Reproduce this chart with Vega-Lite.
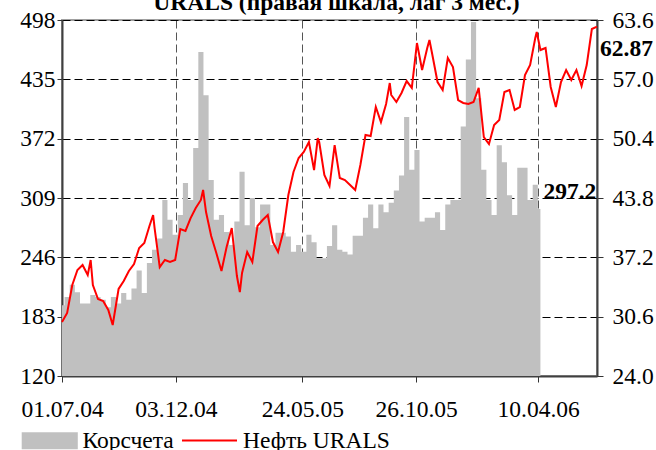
{
  "$schema": "https://vega.github.io/schema/vega-lite/v6.json",
  "width": 535,
  "height": 356,
  "autosize": {"type": "none"},
  "padding": {"left": 62, "top": 20, "right": 59, "bottom": 74},
  "background": "white",
  "config": {
    "font": "Liberation Serif",
    "view": {"stroke": "#a0a0a0", "strokeWidth": 2},
    "axis": {
      "labelFont": "Liberation Serif",
      "labelFontSize": 23.5,
      "labelColor": "#000",
      "tickColor": "#333",
      "domainColor": "#404040",
      "domainWidth": 2,
      "title": null
    },
    "legend": {
      "labelFont": "Liberation Serif",
      "labelFontSize": 23.5,
      "labelColor": "#000",
      "padding": 0
    }
  },
  "title": {
    "text": "URALS    (правая шкала, лаг 3 мес.)",
    "font": "Liberation Serif",
    "fontSize": 23.5,
    "fontWeight": "bold",
    "color": "#000",
    "anchor": "middle",
    "frame": "group",
    "baseline": "alphabetic",
    "offset": -25,
    "dx": 7
  },
  "encoding": {
    "x": {
      "field": "date",
      "type": "temporal",
      "scale": {
        "type": "utc",
        "domain": [
          {"year": 2004, "month": 7, "date": 1, "utc": true},
          {"year": 2006, "month": 6, "date": 29, "utc": true}
        ]
      },
      "axis": {
        "values": [
          {"year": 2004, "month": 7, "date": 1, "utc": true},
          {"year": 2004, "month": 12, "date": 3, "utc": true},
          {"year": 2005, "month": 5, "date": 24, "utc": true},
          {"year": 2005, "month": 10, "date": 26, "utc": true},
          {"year": 2006, "month": 4, "date": 10, "utc": true}
        ],
        "format": "%d.%m.%y",
        "labelAngle": 0,
        "labelFlush": false,
        "labelOverlap": false,
        "grid": true,
        "gridColor": "#555",
        "gridDash": [8, 4],
        "tickSize": 6,
        "labelPadding": 15
      }
    }
  },
  "layer": [
    {
      "data": {
        "values": [
          {"date": "2004-07-01", "value": 195},
          {"date": "2004-07-08", "value": 204},
          {"date": "2004-07-15", "value": 217},
          {"date": "2004-07-22", "value": 209},
          {"date": "2004-07-29", "value": 197},
          {"date": "2004-08-05", "value": 197},
          {"date": "2004-08-12", "value": 206},
          {"date": "2004-08-19", "value": 204},
          {"date": "2004-08-26", "value": 201},
          {"date": "2004-09-02", "value": 193},
          {"date": "2004-09-09", "value": 204},
          {"date": "2004-09-16", "value": 197},
          {"date": "2004-09-23", "value": 208},
          {"date": "2004-09-30", "value": 201},
          {"date": "2004-10-07", "value": 213},
          {"date": "2004-10-14", "value": 232},
          {"date": "2004-10-21", "value": 208},
          {"date": "2004-10-28", "value": 240},
          {"date": "2004-11-04", "value": 254},
          {"date": "2004-11-11", "value": 266},
          {"date": "2004-11-18", "value": 307},
          {"date": "2004-11-25", "value": 286},
          {"date": "2004-12-02", "value": 270},
          {"date": "2004-12-09", "value": 291},
          {"date": "2004-12-16", "value": 325},
          {"date": "2004-12-23", "value": 307},
          {"date": "2004-12-30", "value": 362},
          {"date": "2005-01-06", "value": 464},
          {"date": "2005-01-13", "value": 418},
          {"date": "2005-01-20", "value": 328},
          {"date": "2005-01-27", "value": 286},
          {"date": "2005-02-03", "value": 291},
          {"date": "2005-02-10", "value": 273},
          {"date": "2005-02-17", "value": 259},
          {"date": "2005-02-24", "value": 284},
          {"date": "2005-03-03", "value": 337},
          {"date": "2005-03-10", "value": 280},
          {"date": "2005-03-17", "value": 309},
          {"date": "2005-03-24", "value": 278},
          {"date": "2005-03-31", "value": 302},
          {"date": "2005-04-07", "value": 302},
          {"date": "2005-04-14", "value": 259},
          {"date": "2005-04-21", "value": 272},
          {"date": "2005-04-28", "value": 272},
          {"date": "2005-05-05", "value": 268},
          {"date": "2005-05-12", "value": 252},
          {"date": "2005-05-19", "value": 259},
          {"date": "2005-05-26", "value": 252},
          {"date": "2005-06-02", "value": 270},
          {"date": "2005-06-09", "value": 262},
          {"date": "2005-06-16", "value": 245},
          {"date": "2005-06-23", "value": 245},
          {"date": "2005-06-30", "value": 258},
          {"date": "2005-07-07", "value": 280},
          {"date": "2005-07-14", "value": 254},
          {"date": "2005-07-21", "value": 252},
          {"date": "2005-07-28", "value": 249},
          {"date": "2005-08-04", "value": 269},
          {"date": "2005-08-11", "value": 269},
          {"date": "2005-08-18", "value": 288},
          {"date": "2005-08-25", "value": 302},
          {"date": "2005-09-01", "value": 277},
          {"date": "2005-09-08", "value": 302},
          {"date": "2005-09-15", "value": 294},
          {"date": "2005-09-22", "value": 304},
          {"date": "2005-09-29", "value": 317},
          {"date": "2005-10-06", "value": 333},
          {"date": "2005-10-13", "value": 395},
          {"date": "2005-10-20", "value": 339},
          {"date": "2005-10-27", "value": 360},
          {"date": "2005-11-03", "value": 284},
          {"date": "2005-11-10", "value": 288},
          {"date": "2005-11-17", "value": 288},
          {"date": "2005-11-24", "value": 294},
          {"date": "2005-12-01", "value": 275},
          {"date": "2005-12-08", "value": 302},
          {"date": "2005-12-15", "value": 307},
          {"date": "2005-12-22", "value": 307},
          {"date": "2005-12-29", "value": 385},
          {"date": "2006-01-05", "value": 456},
          {"date": "2006-01-12", "value": 496},
          {"date": "2006-01-19", "value": 415},
          {"date": "2006-01-26", "value": 339},
          {"date": "2006-02-02", "value": 307},
          {"date": "2006-02-09", "value": 291},
          {"date": "2006-02-16", "value": 365},
          {"date": "2006-02-23", "value": 347},
          {"date": "2006-03-02", "value": 312},
          {"date": "2006-03-09", "value": 291},
          {"date": "2006-03-16", "value": 341},
          {"date": "2006-03-23", "value": 341},
          {"date": "2006-03-30", "value": 307},
          {"date": "2006-04-06", "value": 323},
          {"date": "2006-04-13", "value": 297.2, "label": "297.2"}
        ]
      },
      "layer": [
        {
          "mark": {"type": "area", "interpolate": "step", "color": "#c0c0c0"},
          "encoding": {
            "y": {
              "field": "value",
              "type": "quantitative",
              "scale": {"domain": [120, 498], "nice": false, "zero": false},
              "axis": {
                "values": [120, 183, 246, 309, 372, 435, 498],
                "format": "d",
                "grid": true,
                "gridColor": "#000",
                "gridDash": [8, 4],
                "tickSize": 5,
                "labelPadding": 2
              }
            },
            "y2": {"datum": 120},
            "fill": {
              "datum": "Корсчета",
              "type": "nominal",
              "scale": {"range": ["#c0c0c0"]},
              "legend": {
                "orient": "none",
                "legendX": -40,
                "legendY": 409,
                "title": null,
                "symbolType": "M-3.3,-1H3.3V1H-3.3Z",
                "symbolSize": 289,
                "symbolStrokeWidth": 0,
                "symbolOffset": 16,
                "labelOffset": 21
              }
            }
          }
        },
        {
          "transform": [{"filter": "isValid(datum.label)"}],
          "mark": {
            "type": "text",
            "align": "left",
            "baseline": "middle",
            "dx": 3,
            "dy": -17,
            "font": "Liberation Serif",
            "fontSize": 23.5,
            "fontWeight": "bold",
            "color": "#000"
          },
          "encoding": {
            "y": {"field": "value", "type": "quantitative"},
            "text": {"field": "label"}
          }
        }
      ]
    },
    {
      "data": {
        "values": [
          {"date": "2004-07-01", "value": 30.01},
          {"date": "2004-07-08", "value": 31.01},
          {"date": "2004-07-15", "value": 34.12},
          {"date": "2004-07-22", "value": 35.79},
          {"date": "2004-07-29", "value": 36.35},
          {"date": "2004-08-05", "value": 35.23},
          {"date": "2004-08-09", "value": 36.9},
          {"date": "2004-08-12", "value": 34.12},
          {"date": "2004-08-19", "value": 32.56},
          {"date": "2004-08-26", "value": 32.34},
          {"date": "2004-09-02", "value": 31.34},
          {"date": "2004-09-08", "value": 29.67},
          {"date": "2004-09-16", "value": 33.68},
          {"date": "2004-09-23", "value": 34.57},
          {"date": "2004-09-30", "value": 35.68},
          {"date": "2004-10-07", "value": 36.46},
          {"date": "2004-10-14", "value": 38.24},
          {"date": "2004-10-21", "value": 38.79},
          {"date": "2004-10-28", "value": 40.68},
          {"date": "2004-11-02", "value": 41.91},
          {"date": "2004-11-04", "value": 40.46},
          {"date": "2004-11-11", "value": 36.12},
          {"date": "2004-11-18", "value": 36.9},
          {"date": "2004-11-25", "value": 36.68},
          {"date": "2004-12-02", "value": 36.9},
          {"date": "2004-12-09", "value": 40.35},
          {"date": "2004-12-16", "value": 40.13},
          {"date": "2004-12-23", "value": 41.57},
          {"date": "2004-12-30", "value": 42.69},
          {"date": "2005-01-06", "value": 43.58},
          {"date": "2005-01-09", "value": 44.69},
          {"date": "2005-01-13", "value": 42.24},
          {"date": "2005-01-20", "value": 39.57},
          {"date": "2005-01-27", "value": 37.68},
          {"date": "2005-02-03", "value": 35.68},
          {"date": "2005-02-10", "value": 38.35},
          {"date": "2005-02-17", "value": 40.46},
          {"date": "2005-02-24", "value": 35.12},
          {"date": "2005-02-28", "value": 33.34},
          {"date": "2005-03-03", "value": 35.46},
          {"date": "2005-03-10", "value": 37.79},
          {"date": "2005-03-17", "value": 36.68},
          {"date": "2005-03-24", "value": 40.68},
          {"date": "2005-03-31", "value": 41.35},
          {"date": "2005-04-07", "value": 41.91},
          {"date": "2005-04-14", "value": 38.9},
          {"date": "2005-04-21", "value": 37.79},
          {"date": "2005-04-28", "value": 40.02},
          {"date": "2005-05-05", "value": 44.13},
          {"date": "2005-05-12", "value": 46.69},
          {"date": "2005-05-19", "value": 48.25},
          {"date": "2005-05-26", "value": 48.92},
          {"date": "2005-06-02", "value": 50.03},
          {"date": "2005-06-09", "value": 46.91},
          {"date": "2005-06-14", "value": 50.47},
          {"date": "2005-06-16", "value": 50.03},
          {"date": "2005-06-23", "value": 46.36},
          {"date": "2005-06-30", "value": 45.13},
          {"date": "2005-07-07", "value": 49.69},
          {"date": "2005-07-14", "value": 46.02},
          {"date": "2005-07-21", "value": 45.8},
          {"date": "2005-07-28", "value": 45.25},
          {"date": "2005-08-04", "value": 44.69},
          {"date": "2005-08-11", "value": 47.47},
          {"date": "2005-08-18", "value": 50.81},
          {"date": "2005-08-25", "value": 50.7},
          {"date": "2005-09-01", "value": 53.92},
          {"date": "2005-09-08", "value": 52.25},
          {"date": "2005-09-15", "value": 54.26},
          {"date": "2005-09-20", "value": 56.59},
          {"date": "2005-09-22", "value": 55.26},
          {"date": "2005-09-29", "value": 54.48},
          {"date": "2005-10-06", "value": 55.48},
          {"date": "2005-10-13", "value": 56.81},
          {"date": "2005-10-20", "value": 56.04},
          {"date": "2005-10-27", "value": 61.04},
          {"date": "2005-11-03", "value": 58.04},
          {"date": "2005-11-10", "value": 60.49},
          {"date": "2005-11-13", "value": 61.38},
          {"date": "2005-11-17", "value": 59.71},
          {"date": "2005-11-24", "value": 56.7},
          {"date": "2005-12-01", "value": 55.81},
          {"date": "2005-12-08", "value": 59.37},
          {"date": "2005-12-15", "value": 58.37},
          {"date": "2005-12-22", "value": 54.7},
          {"date": "2005-12-29", "value": 54.37},
          {"date": "2006-01-05", "value": 54.26},
          {"date": "2006-01-12", "value": 54.48},
          {"date": "2006-01-19", "value": 56.04},
          {"date": "2006-01-26", "value": 50.58},
          {"date": "2006-02-02", "value": 49.8},
          {"date": "2006-02-09", "value": 51.92},
          {"date": "2006-02-16", "value": 52.48},
          {"date": "2006-02-23", "value": 55.59},
          {"date": "2006-03-02", "value": 55.81},
          {"date": "2006-03-09", "value": 53.59},
          {"date": "2006-03-16", "value": 53.92},
          {"date": "2006-03-23", "value": 57.48},
          {"date": "2006-03-30", "value": 58.59},
          {"date": "2006-04-06", "value": 61.6},
          {"date": "2006-04-08", "value": 62.27},
          {"date": "2006-04-13", "value": 60.26},
          {"date": "2006-04-20", "value": 60.49},
          {"date": "2006-04-27", "value": 56.15},
          {"date": "2006-05-04", "value": 53.92},
          {"date": "2006-05-11", "value": 56.7},
          {"date": "2006-05-18", "value": 58.04},
          {"date": "2006-05-25", "value": 56.93},
          {"date": "2006-06-01", "value": 58.04},
          {"date": "2006-06-08", "value": 56.26},
          {"date": "2006-06-15", "value": 58.59},
          {"date": "2006-06-22", "value": 62.6},
          {"date": "2006-06-29", "value": 62.87, "label": "62.87"}
        ]
      },
      "layer": [
        {
          "mark": {"type": "line", "color": "#ff0000", "strokeWidth": 2},
          "encoding": {
            "y": {
              "field": "value",
              "type": "quantitative",
              "scale": {"domain": [24, 63.6], "nice": false, "zero": false},
              "axis": {
                "orient": "right",
                "values": [24, 30.6, 37.2, 43.8, 50.4, 57, 63.6],
                "format": ".1f",
                "grid": false,
                "tickSize": 6,
                "labelPadding": 9
              }
            },
            "stroke": {
              "datum": "Нефть URALS",
              "type": "nominal",
              "scale": {"range": ["#ff0000"]},
              "legend": {
                "orient": "none",
                "legendX": 119,
                "legendY": 392,
                "title": null,
                "symbolType": "stroke",
                "symbolSize": 3025,
                "symbolStrokeWidth": 2,
                "symbolOffset": 0,
                "labelOffset": 5
              }
            }
          }
        },
        {
          "transform": [{"filter": "isValid(datum.label)"}],
          "mark": {
            "type": "text",
            "align": "left",
            "baseline": "middle",
            "dx": 3,
            "dy": 22,
            "font": "Liberation Serif",
            "fontSize": 23.5,
            "fontWeight": "bold",
            "color": "#000"
          },
          "encoding": {
            "y": {"field": "value", "type": "quantitative"},
            "text": {"field": "label"}
          }
        }
      ]
    }
  ],
  "resolve": {"scale": {"y": "independent"}}
}
